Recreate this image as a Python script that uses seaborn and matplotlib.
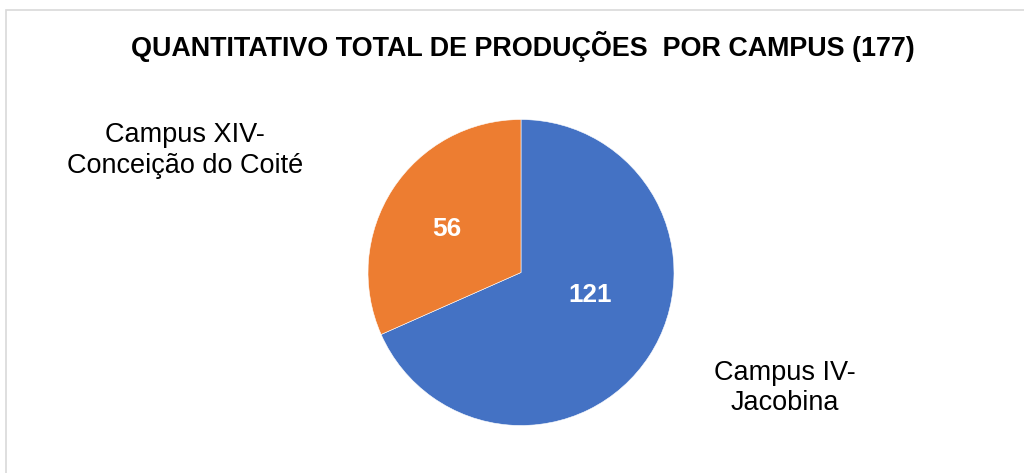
import matplotlib
matplotlib.use("Agg")
import matplotlib.pyplot as plt
import seaborn as sns
from matplotlib.patches import Rectangle

# dados
campi = ["Campus IV-\nJacobina", "Campus XIV-\nConceição do Coité"]
producoes = [121, 56]
cores = ["#4472C4", "#ED7D31"]
titulo = "QUANTITATIVO TOTAL DE PRODUÇÕES  POR CAMPUS (177)"

sns.set_theme(style="white")
plt.rcParams["font.family"] = ["Liberation Sans", "DejaVu Sans"]

W, H = 1024, 473
fig = plt.figure(figsize=(W / 100, H / 100), dpi=100)

# eixo do pizza: centro (521, 272.5) px, raio 153 px
cx, cy, r = 521, 272.5, 153
ax = fig.add_axes([(cx - r) / W, 1 - (cy + r) / H, 2 * r / W, 2 * r / H])

wedges, _ = ax.pie(producoes, colors=sns.color_palette(cores), startangle=90,
                   counterclock=False, radius=1,
                   wedgeprops=dict(linewidth=0.4, edgecolor="white"))
ax.set_xlim(-1, 1)
ax.set_ylim(-1, 1)
ax.set_aspect("auto")
ax.axis("off")

# rótulos de valor
pos_valor = [(0.45, -0.147), (-0.484, 0.284)]
for (x, y), v in zip(pos_valor, producoes):
    ax.text(x, y, str(v), ha="center", va="center", color="white",
            fontsize=18.8, fontweight="bold")

# rótulos de categoria
pos_cat = [(1.725, -0.755), (-2.196, 0.797)]
for (x, y), nome in zip(pos_cat, campi):
    ax.text(x, y, nome, ha="center", va="center", color="black",
            fontsize=19.5, linespacing=1.22, clip_on=False)

fig.text(523 / W, 1 - 47 / H, titulo, ha="center", va="center",
         fontsize=19.4, fontweight="bold", color="black")

fig.add_artist(Rectangle((5.5 / W, -0.02), 1.1, 1 - 10.5 / H + 0.02,
                         transform=fig.transFigure, fill=False,
                         edgecolor="#d9d9d9", linewidth=1.2))

fig.savefig("out.png", dpi=100, facecolor="white")
